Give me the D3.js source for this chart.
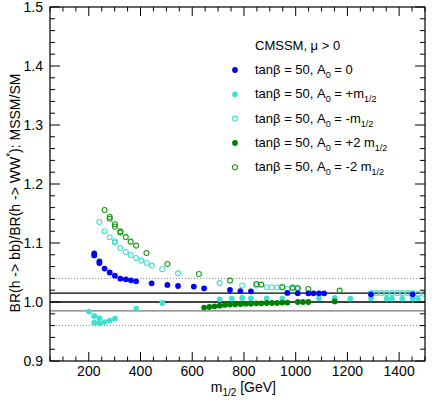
<!DOCTYPE html>
<html>
<head>
<meta charset="utf-8">
<script src="https://cdn.jsdelivr.net/npm/d3@7"></script>
<style>
  body { margin: 0; background: #fff; }
  text { font-family: "Liberation Sans", Arial, Helvetica, sans-serif; fill: #000; }
</style>
</head>
<body>
<div id="chart"></div>
<script>
// m_1/2 [GeV] and BR ratio for each CMSSM scan (tan beta = 50)
var a0zeroM = [221, 221, 241, 241, 261, 281, 301, 322, 343, 363, 383, 443, 504, 545, 606, 646, 746, 786, 827, 968, 1008, 1049, 1069, 1090, 1110, 1291, 1452];
var a0zeroR = [1.0825, 1.079, 1.069, 1.066, 1.0566, 1.050, 1.0447, 1.0396, 1.0385, 1.0368, 1.035, 1.0317, 1.0289, 1.0271, 1.0261, 1.0232, 1.0203, 1.0186, 1.0181, 1.0153, 1.0147, 1.0147, 1.0147, 1.0147, 1.0147, 1.013, 1.013];

var a0plusM = [201, 221, 221, 241, 241, 261, 281, 301, 383, 484, 706, 753, 793, 827, 888, 948, 1090, 1151, 1211, 1291, 1352, 1372, 1412, 1452, 1473];
var a0plusR = [0.9837, 0.9763, 0.965, 0.9724, 0.9639, 0.966, 0.9685, 0.9719, 0.9888, 0.9983, 1.0046, 1.0058, 1.0068, 1.0063, 1.0063, 1.0058, 1.0063, 1.0068, 1.0058, 1.0063, 1.0058, 1.0058, 1.0058, 1.0058, 1.0058];

var a0minusM = [241, 261, 281, 301, 301, 322, 343, 362, 383, 403, 424, 444, 484, 545, 706, 793, 848, 888, 907, 928, 948, 968, 988, 1008, 1291, 1312, 1332, 1352, 1373, 1393, 1412, 1433, 1452, 1473, 1494];
var a0minusR = [1.1356, 1.1198, 1.1097, 1.1007, 1.103, 1.0915, 1.0848, 1.0797, 1.0746, 1.0702, 1.0661, 1.0617, 1.0554, 1.0486, 1.032, 1.028, 1.0278, 1.025, 1.0245, 1.0245, 1.0245, 1.022, 1.0225, 1.022, 1.015, 1.015, 1.015, 1.015, 1.015, 1.015, 1.015, 1.015, 1.015, 1.014, 1.014];

var a0plus2M = [646, 666, 686, 706, 726, 746, 766, 787, 807, 827, 848, 867, 888, 908, 928, 948, 968, 1008, 1028, 1049, 1151];
var a0plus2R = [0.9905, 0.9915, 0.9927, 0.9938, 0.995, 0.9956, 0.9961, 0.9966, 0.9972, 0.9972, 0.9978, 0.9978, 0.9983, 0.9983, 0.9983, 0.999, 0.999, 1.000, 1.000, 1.000, 1.001];

var a0minus2M = [261, 281, 281, 301, 301, 322, 322, 343, 362, 383, 423, 504, 626, 746, 848, 867, 948, 988, 1008, 1049, 1170];
var a0minus2R = [1.156, 1.144, 1.141, 1.1317, 1.128, 1.1198, 1.1176, 1.110, 1.1023, 1.0956, 1.083, 1.0644, 1.0475, 1.0363, 1.0305, 1.0295, 1.0254, 1.0244, 1.0237, 1.022, 1.0193];

var xTicks = [200, 400, 600, 800, 1000, 1200, 1400];
var yTicks = [0.9, 1.0, 1.1, 1.2, 1.3, 1.4, 1.5];
var solidLines = [1.015, 1.0, 0.985];
var dottedLines = [1.04, 0.96];

var width = 432, height = 400;
var margin = { top: 7, right: 7, bottom: 39, left: 50 };

var svg = d3.select("#chart").append("svg")
    .attr("width", width)
    .attr("height", height);

var x = d3.scaleLinear().domain([50, 1500]).range([margin.left, width - margin.right]);
var y = d3.scaleLinear().domain([0.9, 1.5]).range([height - margin.bottom, margin.top]);

var frameL = x.range()[0], frameR = x.range()[1];
var frameT = y.range()[1], frameB = y.range()[0];

// reference lines
svg.selectAll(".ref")
    .data(solidLines)
    .enter().append("line")
    .attr("x1", frameL).attr("x2", frameR)
    .attr("y1", function(d) { return y(d); })
    .attr("y2", function(d) { return y(d); })
    .attr("stroke", function(d, i) { return i == 2 ? "#777" : "#000"; })
    .attr("stroke-width", 1.3);

svg.selectAll(".dotted")
    .data(dottedLines)
    .enter().append("line")
    .attr("x1", frameL).attr("x2", frameR)
    .attr("y1", function(d) { return y(d); })
    .attr("y2", function(d) { return y(d); })
    .attr("stroke", "#888")
    .attr("stroke-width", 1)
    .attr("stroke-dasharray", "1,2");

// points
var series = [
    { m: a0minusM,  r: a0minusR,  color: "#40e0d0", filled: false },
    { m: a0minus2M, r: a0minus2R, color: "#1a9a1a", filled: false },
    { m: a0plusM,   r: a0plusR,   color: "#40e0d0", filled: true },
    { m: a0plus2M,  r: a0plus2R,  color: "#008000", filled: true },
    { m: a0zeroM,   r: a0zeroR,   color: "#0000ff", filled: true }
];

svg.append("clipPath").attr("id", "clip")
    .append("rect")
    .attr("x", frameL).attr("y", frameT)
    .attr("width", frameR - frameL).attr("height", frameB - frameT);
var plot = svg.append("g").attr("clip-path", "url(#clip)");

series.forEach(function(s) {
    plot.selectAll(null)
        .data(d3.range(s.m.length))
        .enter().append("circle")
        .attr("cx", function(i) { return x(s.m[i]); })
        .attr("cy", function(i) { return y(s.r[i]); })
        .attr("r", s.filled ? 2.9 : 2.5)
        .attr("fill", s.filled ? s.color : "none")
        .attr("stroke", s.color)
        .attr("stroke-width", s.filled ? 0 : 1.1);
});

// axes, ROOT style with mirrored ticks
var xMinor = d3.range(50, 1501, 50);
var yMinor = d3.range(0, 31).map(function(i) { return 0.9 + i * 0.02; });

function isMajorX(v) { return v % 200 == 0; }
function isMajorY(v) { return Math.abs(v * 10 - Math.round(v * 10)) < 1e-6; }

var ticks = svg.append("g").attr("stroke", "#000").attr("stroke-width", 1);

ticks.selectAll(".xb").data(xMinor).enter().append("line")
    .attr("x1", function(d) { return x(d); }).attr("x2", function(d) { return x(d); })
    .attr("y1", frameB).attr("y2", function(d) { return frameB - (isMajorX(d) ? 9 : 4.5); });
ticks.selectAll(".xt").data(xMinor).enter().append("line")
    .attr("x1", function(d) { return x(d); }).attr("x2", function(d) { return x(d); })
    .attr("y1", frameT).attr("y2", function(d) { return frameT + (isMajorX(d) ? 9 : 4.5); });
ticks.selectAll(".yl").data(yMinor).enter().append("line")
    .attr("y1", function(d) { return y(d); }).attr("y2", function(d) { return y(d); })
    .attr("x1", frameL).attr("x2", function(d) { return frameL + (isMajorY(d) ? 10 : 5); });
ticks.selectAll(".yr").data(yMinor).enter().append("line")
    .attr("y1", function(d) { return y(d); }).attr("y2", function(d) { return y(d); })
    .attr("x1", frameR).attr("x2", function(d) { return frameR - (isMajorY(d) ? 10 : 5); });

svg.append("rect")
    .attr("x", frameL).attr("y", frameT)
    .attr("width", frameR - frameL).attr("height", frameB - frameT)
    .attr("fill", "none")
    .attr("stroke", "#000")
    .attr("stroke-width", 1.2);

svg.selectAll(".xlab").data(xTicks).enter().append("text")
    .attr("x", function(d) { return x(d); })
    .attr("y", frameB + 15)
    .attr("text-anchor", "middle")
    .style("font-size", "14px")
    .text(function(d) { return d; });

svg.selectAll(".ylab").data(yTicks).enter().append("text")
    .attr("x", frameL - 7)
    .attr("y", function(d) { return y(d); })
    .attr("dy", "0.36em")
    .attr("text-anchor", "end")
    .style("font-size", "14px")
    .text(function(d) { return d.toFixed(1); });

// axis titles
var xt = svg.append("text")
    .attr("x", 276)
    .attr("y", 392)
    .attr("text-anchor", "end")
    .style("font-size", "14px");
xt.append("tspan").text("m");
xt.append("tspan").attr("dy", 4).style("font-size", "10px").text("1/2");
xt.append("tspan").attr("dy", -4).text(" [GeV]");

var yt = svg.append("text")
    .attr("transform", "translate(20," + 193 + ") rotate(-90)")
    .attr("text-anchor", "middle")
    .style("font-size", "14px");
yt.append("tspan").text("BR(h -> bb)/BR(h -> WW");
yt.append("tspan").attr("dy", -6).style("font-size", "10px").text("*");
yt.append("tspan").attr("dy", 6).text("): MSSM/SM");

// legend
svg.append("text")
    .attr("x", 255).attr("y", 50)
    .style("font-size", "13px")
    .text("CMSSM, \u03bc > 0");

var legend = [
    { color: "#0000ff", filled: true,  a: "0",    sub: "" },
    { color: "#40e0d0", filled: true,  a: "+m",   sub: "1/2" },
    { color: "#40e0d0", filled: false, a: "-m",   sub: "1/2" },
    { color: "#008000", filled: true,  a: "+2 m", sub: "1/2" },
    { color: "#1a9a1a", filled: false, a: "-2 m", sub: "1/2" }
];

legend.forEach(function(d, i) {
    var ly = 70 + i * 24.3;
    svg.append("circle")
        .attr("cx", 235).attr("cy", ly)
        .attr("r", d.filled ? 2.9 : 2.5)
        .attr("fill", d.filled ? d.color : "none")
        .attr("stroke", d.color)
        .attr("stroke-width", d.filled ? 0 : 1.1);
    var t = svg.append("text")
        .attr("x", 255).attr("y", ly + 4)
        .style("font-size", "13px");
    t.append("tspan").text("tan\u03b2 = 50, A");
    t.append("tspan").attr("dy", 4).style("font-size", "9px").text("0");
    t.append("tspan").attr("dy", -4).text(" = " + d.a);
    if (d.sub) t.append("tspan").attr("dy", 4).style("font-size", "9px").text(d.sub);
});
</script>
</body>
</html>
